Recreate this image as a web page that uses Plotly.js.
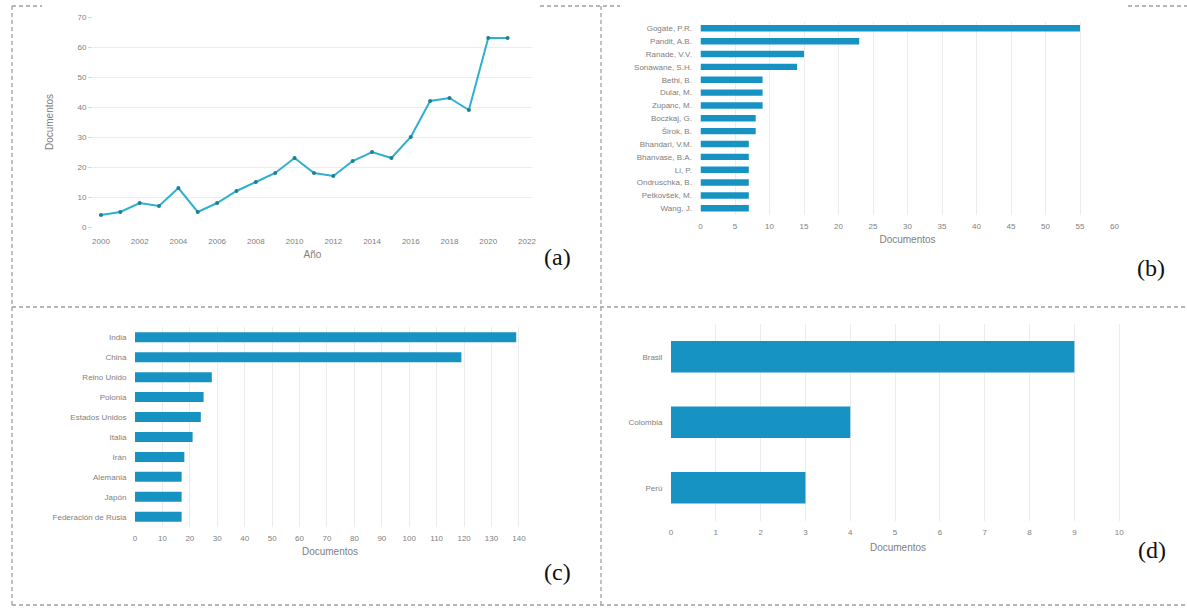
<!DOCTYPE html>
<html>
<head>
<meta charset="utf-8">
<script src="https://cdn.plot.ly/plotly-3.0.1.min.js"></script>
<style>html,body{margin:0;padding:0;background:#fff;}#chart{width:1187px;height:609px;}</style>
</head>
<body>
<div id="chart"></div>
<script>
// (a) documents per year
const years = [2000,2001,2002,2003,2004,2005,2006,2007,2008,2009,2010,2011,2012,2013,2014,2015,2016,2017,2018,2019,2020,2021];
const docsPerYear = [4,5,8,7,13,5,8,12,15,18,23,18,17,22,25,23,30,42,43,39,63,63];

// (b) authors
const authors = ["Gogate, P.R.","Pandit, A.B.","Ranade, V.V.","Sonawane, S.H.","Bethi, B.","Dular, M.","Zupanc, M.","Boczkaj, G.","Širok, B.","Bhandari, V.M.","Bhanvase, B.A.","Li, P.","Ondruschka, B.","Petkovšek, M.","Wang, J."];
const authorDocs = [55,23,15,14,9,9,9,8,8,7,7,7,7,7,7];

// (c) countries
const countries = ["India","China","Reino Unido","Polonia","Estados Unidos","Italia","Irán","Alemania","Japón","Federación de Rusia"];
const countryDocs = [139,119,28,25,24,21,18,17,17,17];

// (d) Latin America
const latam = ["Brasil","Colombia","Perú"];
const latamDocs = [9,4,3];

const W = 1187, H = 609;
const fx = p => p / W;
const fy = p => 1 - p / H;

const BAR = '#1793c3';
const TXT = '#808080';
const GRID = '#ececec';
const tickFont = {family: 'Liberation Sans, Arial, sans-serif', size: 8, color: TXT};
const titleFont = {family: 'Liberation Sans, Arial, sans-serif', size: 10, color: TXT};

const traces = [
  {type: 'scatter', mode: 'lines+markers', x: years, y: docsPerYear, xaxis: 'x', yaxis: 'y',
   line: {color: '#2fb0cf', width: 2}, marker: {color: '#1f7f92', size: 4}, hoverinfo: 'x+y'},
  {type: 'bar', orientation: 'h', x: authorDocs, y: authors, xaxis: 'x2', yaxis: 'y2',
   marker: {color: BAR}, width: 0.5},
  {type: 'bar', orientation: 'h', x: countryDocs, y: countries, xaxis: 'x3', yaxis: 'y3',
   marker: {color: BAR}, width: 0.5},
  {type: 'bar', orientation: 'h', x: latamDocs, y: latam, xaxis: 'x4', yaxis: 'y4',
   marker: {color: BAR}, width: 0.48}
];

function xax(domain, range, dtick, anchor, title, standoff) {
  return {domain: domain, range: range, dtick: dtick, tick0: 0, anchor: anchor,
    showgrid: true, gridcolor: GRID, gridwidth: 1, zeroline: false, showline: false,
    ticks: 'outside', ticklen: 4, tickcolor: 'rgba(0,0,0,0)', tickfont: tickFont,
    title: {text: title, font: titleFont, standoff: standoff}, automargin: false, fixedrange: true};
}
function yax(domain, anchor, cats) {
  return {domain: domain, anchor: anchor, type: 'category', categoryorder: 'array', categoryarray: cats,
    autorange: 'reversed', showgrid: false, zeroline: false, showline: false,
    ticks: 'outside', ticklen: 6, tickcolor: 'rgba(0,0,0,0)', tickfont: tickFont,
    automargin: false, fixedrange: true};
}

const dash = {color: '#a0a0a0', width: 1.3, dash: '4px,3px'};
function seg(x0, y0, x1, y1) {
  return {type: 'line', xref: 'paper', yref: 'paper', x0: fx(x0), y0: fy(y0), x1: fx(x1), y1: fy(y1), line: dash};
}

const letterFont = {family: 'Liberation Serif, Times New Roman, serif', size: 24, color: '#111'};
function letter(t, x, y) {
  return {text: t, xref: 'paper', yref: 'paper', x: fx(x), y: fy(y), showarrow: false,
    xanchor: 'center', yanchor: 'middle', font: letterFont};
}

const layout = {
  width: W, height: H, margin: {l: 0, r: 0, t: 0, b: 0},
  paper_bgcolor: '#fff', plot_bgcolor: '#fff', showlegend: false, bargap: 0.5,
  xaxis: Object.assign(xax([fx(93), fx(532)], [1999.59, 2022.26], 2, 'y', 'Año', 6), {showgrid: false, ticklen: 6}),
  yaxis: {domain: [fy(227), fy(17)], range: [0, 70], dtick: 10, anchor: 'x', showgrid: true, gridcolor: GRID,
    zeroline: false, showline: false, ticks: 'outside', ticklen: 4, tickcolor: '#d8d8d8', tickfont: tickFont,
    title: {text: 'Documentos', font: titleFont, standoff: 21}, automargin: false, fixedrange: true},
  xaxis2: xax([fx(700.5), fx(1114.5)], [0, 60], 5, 'y2', 'Documentos', 5),
  yaxis2: yax([fy(214.7), fy(21.9)], 'x2', authors),
  xaxis3: xax([fx(135), fx(525)], [0, 142.2], 10, 'y3', 'Documentos', 5),
  yaxis3: yax([fy(526.7), fy(327.3)], 'x3', countries),
  xaxis4: xax([fx(671), fx(1125)], [0, 10.13], 1, 'y4', 'Documentos', 7),
  yaxis4: yax([fy(520.5), fy(324)], 'x4', latam),
  shapes: [
    seg(12, 6, 42, 6), seg(540, 6, 620, 6), seg(1128, 6, 1187, 6),
    seg(12, 6, 12, 605), seg(601, 6, 601, 605),
    seg(12, 307, 1187, 307), seg(12, 605, 1187, 605)
  ],
  annotations: [
    letter('(a)', 557, 257), letter('(b)', 1151, 268),
    letter('(c)', 557, 572), letter('(d)', 1152, 550)
  ]
};

Plotly.newPlot('chart', traces, layout, {displayModeBar: false, staticPlot: true});
</script>
</body>
</html>
